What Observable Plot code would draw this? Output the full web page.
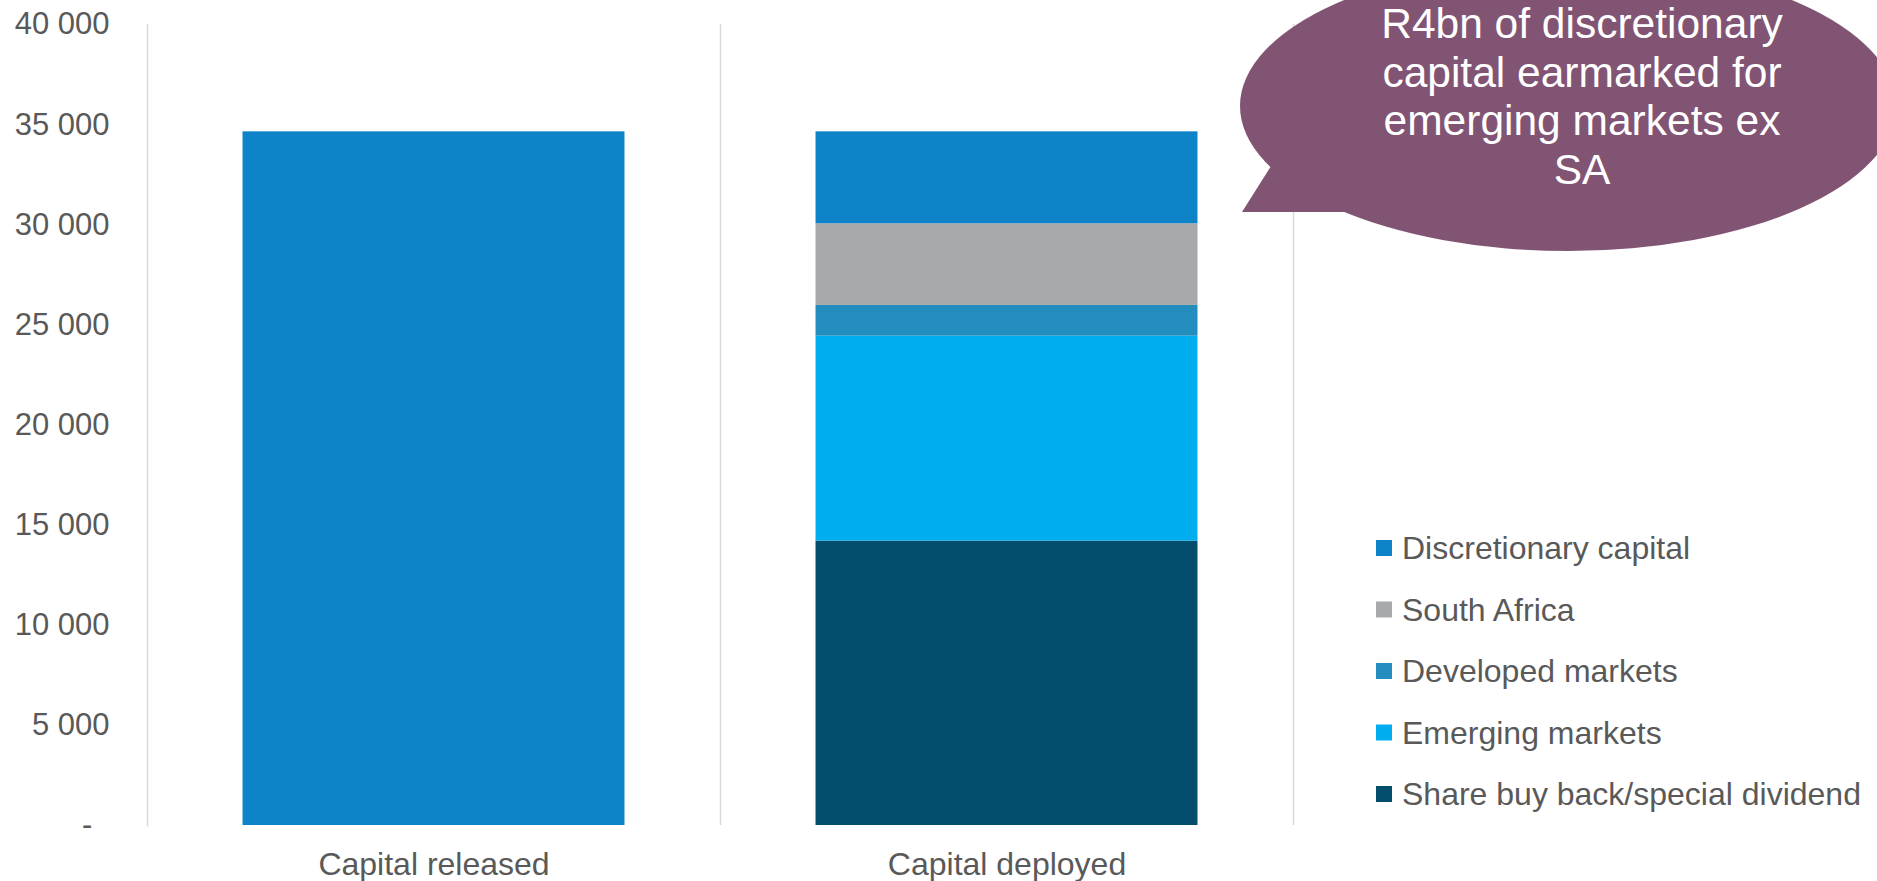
<!DOCTYPE html>
<html>
<head>
<meta charset="utf-8">
<script src="https://cdn.jsdelivr.net/npm/d3@7"></script>
<script src="https://cdn.jsdelivr.net/npm/@observablehq/plot@0.6"></script>
<style>
  html, body { margin: 0; padding: 0; background: #fff; }
  #chart { position: relative; width: 1877px; height: 881px; overflow: hidden; }
  svg { display: block; overflow: visible; }
</style>
</head>
<body>
<div id="chart"></div>
<script>
// ---- data ----
const categories = ["Capital released", "Capital deployed"];
const releasedValue = 34640;
// legend order (top of stack first)
const series = ["Discretionary capital", "South Africa", "Developed markets", "Emerging markets", "Share buy back/special dividend"];
const deployedValues = [4590, 4080, 1535, 10235, 14200];
const seriesColors = ["#0E83C8", "#A7A9AC", "#238DBE", "#00ADEE", "#034E6C"];
const yTicks = [0, 5000, 10000, 15000, 20000, 25000, 30000, 35000, 40000];
const calloutLines = ["R4bn of discretionary", "capital earmarked for", "emerging markets ex", "SA"];

// ---- table ----
const rows = [{cat: categories[0], series: series[0], value: releasedValue}];
for (let i = series.length - 1; i >= 0; i--) {
  rows.push({cat: categories[1], series: series[i], value: deployedValues[i]});
}

const W = 1877, H = 881;
const mL = 147, mR = 584, mT = 24, mB = 56;
const bw = (W - mL - mR) / categories.length;
const inset = bw * 0.1667;
const textColor = "#595959";
const gridColor = "#D9D9D9";
const font = "'Liberation Sans', Arial, sans-serif";
const fmt = d => d === 0 ? "-\u00a0\u00a0" : d3.format(",")(d).replace(/,/g, " ");

const chart = Plot.plot({
  width: W, height: H,
  marginLeft: mL, marginRight: mR, marginTop: mT, marginBottom: mB,
  style: {fontFamily: font, fontSize: "31px", color: textColor, background: "transparent"},
  x: {domain: categories, paddingInner: 0, paddingOuter: 0, label: null, tickSize: 0, tickPadding: 27},
  y: {domain: [0, 40000], ticks: yTicks, tickFormat: fmt, label: null, tickSize: 0, tickPadding: 38},
  color: {domain: series, range: seriesColors},
  marks: [
    Plot.ruleX(categories, {x: d => d, dx: bw / 2, stroke: gridColor, strokeWidth: 1.5}),
    Plot.barY(rows, Plot.stackY({x: "cat", y: "value", fill: "series", insetLeft: inset, insetRight: inset})),
    Plot.frame({anchor: "left", stroke: gridColor, strokeWidth: 1.5})
  ]
});
document.getElementById("chart").appendChild(chart);

const svg = d3.select(chart);
svg.selectAll('g[aria-label="x-axis tick label"]').attr("font-size", 32);
const color = chart.scale("color");

// ---- legend ----
const lg = svg.append("g").attr("text-anchor", "start");
const lx = 1376, ly0 = 548, lstep = 61.5, sq = 16;
series.forEach((s, i) => {
  const cy = ly0 + i * lstep;
  lg.append("rect").attr("x", lx).attr("y", cy - sq / 2).attr("width", sq).attr("height", sq)
    .attr("fill", color.apply(s));
  lg.append("text").attr("x", lx + 26).attr("y", cy).attr("dy", "0.35em")
    .attr("text-anchor", "start")
    .attr("fill", textColor).attr("font-size", 32)
    .attr("font-family", font).text(s);
});

// ---- callout ----
const cg = svg.append("g");
const purple = "#825474";
cg.append("ellipse").attr("cx", 1568).attr("cy", 106).attr("rx", 328).attr("ry", 145).attr("fill", purple);
cg.append("path").attr("d", "M1242,212 L1273,163 L1350,150 L1352,212 Z").attr("fill", purple);
calloutLines.forEach((t, i) => {
  cg.append("text").attr("x", 1582).attr("y", 38 + i * 48.5).attr("text-anchor", "middle")
    .attr("fill", "#fff").attr("font-size", 42.5)
    .attr("font-family", font).text(t);
});
</script>
</body>
</html>
